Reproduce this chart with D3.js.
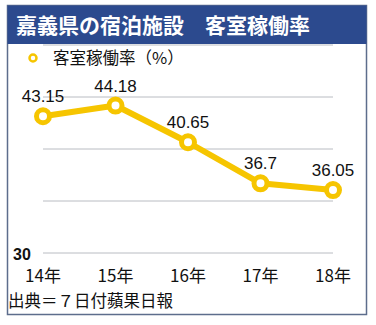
<!DOCTYPE html>
<html>
<head>
<meta charset="utf-8">
<script src="https://cdn.jsdelivr.net/npm/d3@7"></script>
<style>
  html, body { margin: 0; padding: 0; background: #fff; }
  svg { display: block; font-family: "Noto Sans CJK JP", "Noto Sans", sans-serif; }
</style>
</head>
<body>
<svg id="chart" width="376" height="325"></svg>
<script>
// Occupancy rate of Chiayi County lodging facilities
const title = "嘉義県の宿泊施設\u3000客室稼働率";
const seriesName = "客室稼働率（%）";
const source = "出典＝７日付蘋果日報";
const years = ["14年", "15年", "16年", "17年", "18年"];
const occupancy = [43.15, 44.18, 40.65, 36.7, 36.05];
const gridValues = [30, 35, 40, 45, 50];
const labelledTicks = [30];

const svg = d3.select("#chart");
const gold = "#f6c500";

// outer frame
svg.append("rect")
  .attr("x", 7.5).attr("y", 5.5).attr("width", 359).attr("height", 309)
  .attr("fill", "#fff").attr("stroke", "#5d6d8c").attr("stroke-width", 1.5);

// title bar
svg.append("rect")
  .attr("x", 7.5).attr("y", 5.5).attr("width", 359).attr("height", 38.5)
  .attr("fill", "#2c4a8e");
svg.append("text")
  .attr("x", 16).attr("y", 33)
  .attr("fill", "#fff").attr("font-size", 21).attr("font-weight", 700)
  .text(title);

const x = d3.scalePoint().domain(years).range([43, 333]);
const y = d3.scaleLinear().domain([30, 50]).range([253, 45]);

// gridlines
svg.append("g").selectAll("line").data(gridValues).join("line")
  .attr("x1", 43).attr("x2", 333)
  .attr("y1", d => y(d)).attr("y2", d => y(d))
  .attr("stroke", "#b9bcc2").attr("stroke-width", 1);

// y tick label (only baseline value)
svg.append("g").selectAll("text").data(labelledTicks).join("text")
  .attr("x", 13).attr("y", d => y(d) + 7)
  .attr("font-size", 16).attr("font-weight", 700).attr("fill", "#111")
  .attr("font-family", "Liberation Sans, Arial, sans-serif")
  .text(d => d);

// x axis labels
svg.append("g").selectAll("text").data(years).join("text")
  .attr("x", d => x(d)).attr("y", 282)
  .attr("text-anchor", "middle").attr("font-size", 17).attr("fill", "#111")
  .text(d => d);

// legend
svg.append("circle").attr("cx", 33).attr("cy", 58).attr("r", 3.5)
  .attr("fill", "#fff").attr("stroke", gold).attr("stroke-width", 2.5);
svg.append("text").attr("x", 53).attr("y", 64)
  .attr("font-size", 16.5).attr("fill", "#111").text(seriesName);

// series line
const pts = years.map((yr, i) => ({ yr, v: occupancy[i] }));
svg.append("path").datum(pts)
  .attr("fill", "none").attr("stroke", gold).attr("stroke-width", 6)
  .attr("stroke-linejoin", "round")
  .attr("d", d3.line().x(d => x(d.yr)).y(d => y(d.v)));

svg.append("g").selectAll("circle").data(pts).join("circle")
  .attr("cx", d => x(d.yr)).attr("cy", d => y(d.v)).attr("r", 6.5)
  .attr("fill", "#fff").attr("stroke", gold).attr("stroke-width", 5);

// value labels
svg.append("g").selectAll("text").data(pts).join("text")
  .attr("x", d => x(d.yr)).attr("y", d => y(d.v) - 14)
  .attr("text-anchor", "middle").attr("font-size", 17).attr("fill", "#111")
  .attr("font-family", "Liberation Sans, Arial, sans-serif")
  .text(d => d.v);

// source
svg.append("text").attr("x", 8).attr("y", 307)
  .attr("font-size", 16.5).attr("fill", "#111").text(source);
</script>
</body>
</html>
